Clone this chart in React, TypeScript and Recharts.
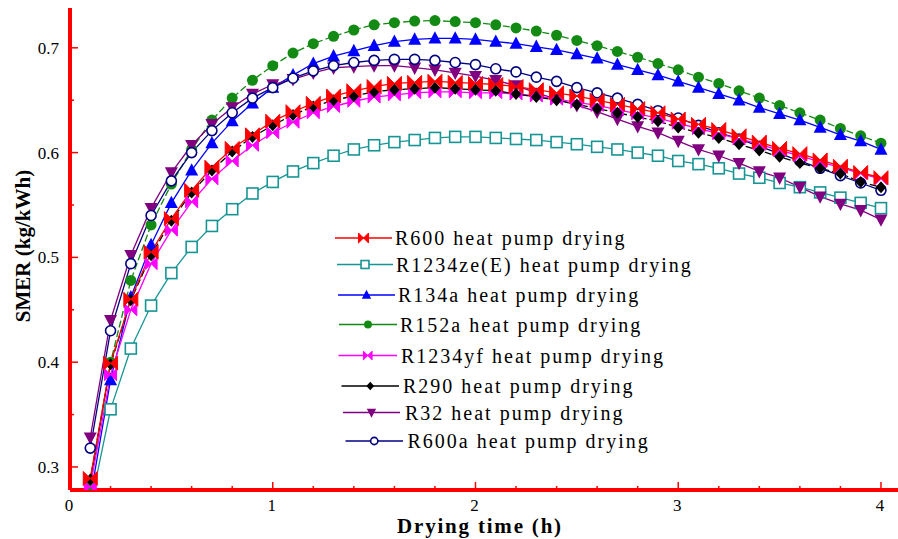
import { LineChart, Line, XAxis, YAxis, Legend, Label } from "recharts";

// drying time (h)
const time = [
  0.1, 0.2, 0.3, 0.4, 0.5, 0.6, 0.7, 0.8, 0.9, 1.0,
  1.1, 1.2, 1.3, 1.4, 1.5, 1.6, 1.7, 1.8, 1.9, 2.0,
  2.1, 2.2, 2.3, 2.4, 2.5, 2.6, 2.7, 2.8, 2.9, 3.0,
  3.1, 3.2, 3.3, 3.4, 3.5, 3.6, 3.7, 3.8, 3.9, 4.0,
];

// SMER (kg/kWh) per refrigerant
const r600 = [
  0.289, 0.399, 0.46, 0.505, 0.537, 0.564, 0.586, 0.604, 0.617, 0.63,
  0.639, 0.647, 0.654, 0.659, 0.663, 0.666, 0.667, 0.668, 0.667, 0.666,
  0.665, 0.663, 0.66, 0.657, 0.654, 0.65, 0.646, 0.642, 0.638, 0.632,
  0.627, 0.622, 0.616, 0.61, 0.604, 0.599, 0.593, 0.587, 0.581, 0.576,
];
const r1234ze = [
  0.262, 0.355, 0.413, 0.454, 0.485, 0.51, 0.53, 0.546, 0.561, 0.572,
  0.582, 0.59, 0.597, 0.603, 0.607, 0.61, 0.612, 0.614, 0.615, 0.615,
  0.614, 0.613, 0.612, 0.61, 0.608, 0.6055, 0.603, 0.6, 0.597, 0.592,
  0.589, 0.585, 0.58, 0.576, 0.571, 0.567, 0.562, 0.557, 0.552, 0.547,
];
const r134a = [
  0.27, 0.383, 0.462, 0.512, 0.552, 0.583, 0.609, 0.63, 0.647, 0.662,
  0.674, 0.685, 0.692, 0.697, 0.702, 0.706, 0.708, 0.709, 0.709, 0.708,
  0.706, 0.704, 0.701, 0.698, 0.694, 0.69, 0.684, 0.679, 0.674, 0.668,
  0.662, 0.656, 0.65, 0.643, 0.637, 0.631, 0.624, 0.617, 0.611, 0.603,
];
const r152a = [
  0.283, 0.4, 0.478, 0.531, 0.57, 0.603, 0.631, 0.652, 0.669, 0.683,
  0.695, 0.704, 0.711, 0.717, 0.722, 0.724, 0.7255, 0.726, 0.725, 0.724,
  0.722, 0.719, 0.716, 0.712, 0.707, 0.702, 0.6965, 0.691, 0.685, 0.679,
  0.672, 0.666, 0.659, 0.652, 0.645, 0.638, 0.631, 0.623, 0.616, 0.609,
];
const r1234yf = [
  0.281, 0.388, 0.45, 0.494, 0.526, 0.553, 0.575, 0.592, 0.607, 0.619,
  0.629, 0.638, 0.644, 0.649, 0.653, 0.655, 0.657, 0.658, 0.658, 0.657,
  0.657, 0.656, 0.654, 0.651, 0.648, 0.645, 0.641, 0.637, 0.633, 0.628,
  0.623, 0.618, 0.613, 0.608, 0.602, 0.597, 0.591, 0.586, 0.58, 0.575,
];
const r290 = [
  0.288, 0.398, 0.459, 0.502, 0.535, 0.562, 0.583, 0.601, 0.615, 0.626,
  0.636, 0.644, 0.65, 0.654, 0.658, 0.66, 0.661, 0.662, 0.661, 0.66,
  0.659, 0.656, 0.653, 0.65, 0.646, 0.642, 0.638, 0.634, 0.63, 0.624,
  0.619, 0.614, 0.608, 0.602, 0.596, 0.59, 0.585, 0.58, 0.572, 0.567,
];
const r32 = [
  0.328, 0.44, 0.502, 0.547, 0.581, 0.607, 0.627, 0.643, 0.656, 0.665,
  0.67, 0.676, 0.681, 0.682, 0.683, 0.683, 0.681, 0.679, 0.676, 0.673,
  0.669, 0.664, 0.657, 0.651, 0.645, 0.639, 0.632, 0.625, 0.619, 0.611,
  0.603, 0.597, 0.59, 0.582, 0.576, 0.567, 0.558, 0.551, 0.545, 0.536,
];
const r600a = [
  0.318, 0.43, 0.494, 0.54, 0.573, 0.6, 0.621, 0.638, 0.652, 0.662,
  0.671, 0.678, 0.683, 0.686, 0.688, 0.689, 0.689, 0.688, 0.686, 0.684,
  0.68, 0.677, 0.672, 0.668, 0.662, 0.657, 0.652, 0.646, 0.64, 0.633,
  0.626, 0.619, 0.613, 0.606, 0.599, 0.592, 0.585, 0.578, 0.571, 0.564,
];

const xMajor = [0, 1, 2, 3, 4];
const xTicks = [
  0, 0.2, 0.4, 0.6, 0.8, 1, 1.2, 1.4, 1.6, 1.8, 2, 2.2, 2.4, 2.6, 2.8, 3,
  3.2, 3.4, 3.6, 3.8, 4,
];
const yTicks = [0.3, 0.35, 0.4, 0.45, 0.5, 0.55, 0.6, 0.65, 0.7];
const yMajor = [0.3, 0.4, 0.5, 0.6, 0.7];

const series = [
  { key: "r600", name: "R600 heat pump drying", color: "#ff0000", shape: "bowtie", dash: undefined, values: r600 },
  { key: "r1234ze", name: "R1234ze(E) heat pump drying", color: "#179595", shape: "square", dash: undefined, values: r1234ze },
  { key: "r134a", name: "R134a heat pump drying", color: "#0000ff", shape: "triangle", dash: undefined, values: r134a },
  { key: "r152a", name: "R152a heat pump drying", color: "#138a13", shape: "dot", dash: "7 3", values: r152a },
  { key: "r1234yf", name: "R1234yf heat pump drying", color: "#ff00ff", shape: "bowtieSmall", dash: undefined, values: r1234yf },
  { key: "r290", name: "R290 heat pump drying", color: "#000000", shape: "diamond", dash: "7 3", values: r290 },
  { key: "r32", name: "R32 heat pump drying", color: "#800080", shape: "triangleDown", dash: undefined, values: r32 },
  { key: "r600a", name: "R600a heat pump drying", color: "#000080", shape: "ring", dash: undefined, values: r600a },
];

const drawOrder = ["r1234ze", "r152a", "r134a", "r32", "r600a", "r1234yf", "r290", "r600"];

const data = time.map((t, i) => {
  const row: Record<string, number> = { t };
  series.forEach((s) => (row[s.key] = s.values[i]));
  return row;
});

// legend rows: centre y, line start, line end, text start (relative to legend box)
const legendRows = [
  [13, 2, 59, 62],
  [39.5, 4, 60, 63],
  [70, 5, 62, 65],
  [99.5, 6, 64, 67],
  [130.5, 5.5, 64, 68],
  [161, 8.5, 66, 70],
  [187.5, 10, 67, 72],
  [216, 12.5, 70, 74.5],
];

const RED = "#ff0000";
const SERIF = "'Liberation Serif', 'Times New Roman', serif";

const Marker = ({ shape, cx, cy, color, k = 1 }: any) => {
  switch (shape) {
    case "bowtie":
    case "bowtieSmall": {
      const w = (shape === "bowtie" ? 7 : 6) * k;
      const h = (shape === "bowtie" ? 7 : 6) * k;
      return (
        <path
          d={`M${cx - w},${cy - h}L${cx},${cy}L${cx - w},${cy + h}ZM${cx + w},${cy - h}L${cx},${cy}L${cx + w},${cy + h}Z`}
          fill={color}
          stroke={color}
          strokeWidth={1}
        />
      );
    }
    case "square": {
      const s = 5.5 * k;
      return <rect x={cx - s} y={cy - s} width={2 * s} height={2 * s} fill="#fff" stroke={color} strokeWidth={1.6} />;
    }
    case "triangle": {
      const s = 6.5 * k;
      return <polygon points={`${cx},${cy - s * 1.1} ${cx - s},${cy + s * 0.8} ${cx + s},${cy + s * 0.8}`} fill={color} />;
    }
    case "triangleDown": {
      const s = 6.5 * k;
      return <polygon points={`${cx - s},${cy - s * 0.8} ${cx + s},${cy - s * 0.8} ${cx},${cy + s * 1.1}`} fill={color} />;
    }
    case "diamond": {
      const s = 6 * k;
      return <polygon points={`${cx},${cy - s} ${cx + s * 0.9},${cy} ${cx},${cy + s} ${cx - s * 0.9},${cy}`} fill={color} />;
    }
    case "dot":
      return <circle cx={cx} cy={cy} r={5.5 * k} fill={color} />;
    default:
      return <circle cx={cx} cy={cy} r={5 * k} fill="#fff" stroke={color} strokeWidth={1.6} />;
  }
};

const XTick = ({ x, y, payload, top }: any) => {
  const major = xMajor.includes(payload.value);
  const len = major ? 8 : 4;
  return (
    <g>
      <line x1={x} x2={x} y1={y} y2={top ? y + len : y - len} stroke={RED} strokeWidth={1.5} />
      {!top && major && (
        <text x={x - 1} y={y + 21} textAnchor="middle" fontFamily={SERIF} fontSize={17} fill="#000">
          {payload.value}
        </text>
      )}
    </g>
  );
};

const YTick = ({ x, y, payload }: any) => {
  const major = yMajor.includes(payload.value);
  const len = major ? 8 : 4;
  return (
    <g>
      <line x1={x} x2={x + len} y1={y} y2={y} stroke={RED} strokeWidth={1.5} />
      {major && (
        <text x={x - 11} y={y + 6} textAnchor="end" fontFamily={SERIF} fontSize={17} fill="#000">
          {payload.value.toFixed(1)}
        </text>
      )}
    </g>
  );
};

const renderLegend = () => (
  <svg width={400} height={232}>
    {series.map((s, i) => {
      const [cy, x1, x2, tx] = legendRows[i];
      return (
        <g key={s.key}>
          <line x1={x1} x2={x2} y1={cy} y2={cy} stroke={s.color} strokeWidth={1.5} />
          <Marker shape={s.shape} cx={(x1 + x2) / 2} cy={cy} color={s.color} k={0.72} />
          <text x={tx} y={cy + 7} fontFamily={SERIF} fontSize={20} letterSpacing={2} fill="#000">
            {s.name}
          </text>
        </g>
      );
    })}
  </svg>
);

export default function App() {
  return (
    <div style={{ position: "absolute", left: 0, top: 0, width: 898, height: 539, background: "#fff" }}>
      <LineChart width={898} height={539} data={data} margin={{ top: 8, right: 0, bottom: 0, left: 0 }}>
        <XAxis
          dataKey="t"
          type="number"
          domain={[0, 4.084]}
          ticks={xTicks}
          interval={0}
          allowDataOverflow
          height={49}
          tickSize={0}
          tickMargin={0}
          tickLine={false}
          axisLine={{ stroke: RED, strokeWidth: 4 }}
          tick={<XTick />}
        >
          <Label
            content={() => (
              <text x={480} y={533} textAnchor="middle" fontFamily={SERIF} fontWeight="bold" fontSize={21} letterSpacing={1.8} fill="#000">
                Drying time (h)
              </text>
            )}
          />
        </XAxis>
        <XAxis
          xAxisId="top"
          orientation="top"
          dataKey="t"
          type="number"
          domain={[0, 4.084]}
          ticks={xTicks}
          interval={0}
          allowDataOverflow
          height={0}
          tickSize={0}
          tickMargin={0}
          tickLine={false}
          axisLine={{ stroke: RED, strokeWidth: 4 }}
          tick={<XTick top />}
        />
        <YAxis
          type="number"
          domain={[0.278, 0.738]}
          ticks={yTicks}
          interval={0}
          allowDataOverflow
          width={70}
          tickSize={0}
          tickMargin={0}
          tickLine={false}
          axisLine={{ stroke: RED, strokeWidth: 4 }}
          tick={<YTick />}
        >
          <Label
            content={() => (
              <text
                x={30}
                y={246}
                transform="rotate(-90 30 246)"
                textAnchor="middle"
                fontFamily={SERIF}
                fontWeight="bold"
                fontSize={21}
                fill="#000"
              >
                SMER (kg/kWh)
              </text>
            )}
          />
        </YAxis>
        <Legend
          layout="vertical"
          align="center"
          verticalAlign="middle"
          wrapperStyle={{ left: 333, top: 225, width: 400, height: 232 }}
          content={renderLegend}
        />
        {drawOrder.map((key) => {
          const s = series.find((d) => d.key === key)!;
          return (
            <Line
              key={s.key}
              dataKey={s.key}
              name={s.name}
              stroke={s.color}
              strokeWidth={1.3}
              strokeDasharray={s.dash}
              isAnimationActive={false}
              activeDot={false}
              dot={(p: any) => (
                <Marker key={`${s.key}-${p.index}`} shape={s.shape} cx={p.cx} cy={p.cy} color={s.color} />
              )}
            />
          );
        })}
      </LineChart>
    </div>
  );
}
